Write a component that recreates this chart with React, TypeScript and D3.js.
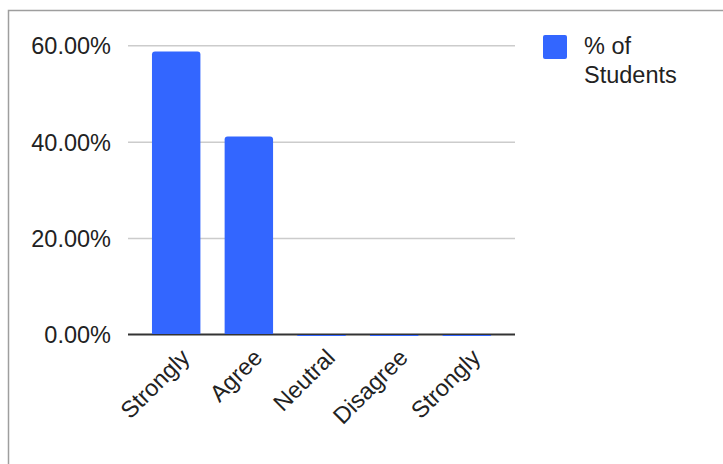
import React from "react";
import * as d3 from "d3";

const categories = ["Strongly", "Agree", "Neutral", "Disagree", "Strongly"];
const values = [58.82, 41.18, 0, 0, 0];
const yTicks = [0, 20, 40, 60];
const seriesName = ["% of", "Students"];

const W = 723;
const H = 464;
const plotLeft = 128;
const plotRight = 515;
const yTop = 45.7;
const yBottom = 335;

export default function App() {
  const x = d3
    .scaleBand<number>()
    .domain(categories.map((_, i) => i))
    .range([plotLeft, plotRight])
    .paddingInner(1 / 3)
    .paddingOuter(0.33);
  const y = d3.scaleLinear().domain([0, 60]).range([yBottom, yTop]);
  const fs = 23.5;

  return (
    <svg
      width={W}
      height={H}
      style={{ position: "absolute", left: 0, top: 0, background: "#fff", fontFamily: "Liberation Sans, Arial, sans-serif" }}
    >
      <rect x={0} y={0} width={W} height={H} fill="#fff" />
      <rect x={8.5} y={10.5} width={W + 20} height={H + 20} fill="none" stroke="#9e9e9e" strokeWidth={1.5} />
      {yTicks.map((t) =>
        t === 0 ? null : (
          <line key={"g" + t} x1={plotLeft} x2={plotRight} y1={y(t)} y2={y(t)} stroke="#cccccc" strokeWidth={1.5} />
        )
      )}
      {yTicks.map((t) => (
        <text key={"t" + t} x={111} y={y(t)} dy="0.36em" textAnchor="end" fontSize={fs} fill="#222">
          {d3.format(".2f")(t) + "%"}
        </text>
      ))}
      <line x1={plotLeft} x2={plotRight} y1={yBottom - 0.5} y2={yBottom - 0.5} stroke="#333" strokeWidth={2} />
      {values.map((v, i) => {
        const bx = x(i)!;
        const bw = x.bandwidth();
        if (v === 0) {
          return <rect key={i} x={bx} y={yBottom} width={bw} height={1} fill="#3366ff" />;
        }
        const top = y(v);
        const r = 3;
        const d = `M${bx},${yBottom - 1}V${top + r}Q${bx},${top} ${bx + r},${top}H${bx + bw - r}Q${bx + bw},${top} ${bx + bw},${top + r}V${yBottom - 1}Z`;
        return <path key={i} d={d} fill="#3366ff" />;
      })}
      {categories.map((c, i) => {
        const cx = x(i)! + x.bandwidth() / 2 + 9;
        const cy = 353;
        return (
          <text
            key={"x" + i}
            transform={`translate(${cx},${cy}) rotate(-45)`}
            textAnchor="end"
            dy="0.36em"
            fontSize={fs}
            fill="#222"
          >
            {c}
          </text>
        );
      })}
      <rect x={543} y={35} width={24} height={24} rx={2} fill="#3366ff" />
      <text x={584} y={54} fontSize={fs} fill="#222">
        {seriesName[0]}
      </text>
      <text x={584} y={83} fontSize={fs} fill="#222">
        {seriesName[1]}
      </text>
    </svg>
  );
}
